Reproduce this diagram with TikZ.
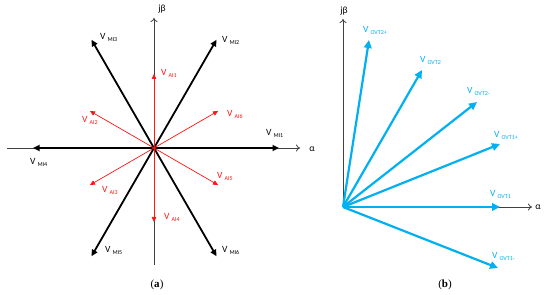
\documentclass[tikz,border=0pt]{standalone}
\usepackage{fontspec}
\setmainfont{Carlito}
\newfontfamily\capfont{Liberation Serif}
\usepackage{tikz}
\usetikzlibrary{arrows.meta,calc,positioning}
\definecolor{axgray}{RGB}{64,64,64}
\definecolor{aired}{RGB}{255,20,20}
\definecolor{ovtblue}{RGB}{0,176,240}
\newcommand{\vsub}[1]{V\hspace{2pt}{\fontsize{6}{6}\selectfont\raisebox{-1.8pt}{#1}}}

\begin{document}
\begin{tikzpicture}[x=1pt,y=1pt,font=\fontsize{9.5}{11}\selectfont,
  axis/.style={axgray,line width=0.8pt,-{To[length=4pt,width=7pt]}},
  mivec/.style={black,line width=1.8pt,-{Triangle[length=6.5pt,width=6pt]}},
  aivec/.style={aired,line width=0.7pt,-{Triangle[length=5pt,width=4.5pt]}},
  ovtvec/.style={ovtblue,line width=2.2pt,-{Triangle[length=8pt,width=7.5pt]}},
  lab/.style={anchor=base west,inner sep=0pt},
  axlab/.style={inner sep=0pt,font=\fontsize{9.5}{10}\selectfont,text=black},
  captxt/.style={inner sep=0pt,font=\capfont\fontsize{11}{12}\selectfont}
]
\useasboundingbox (0,0) rectangle (550,295);
% panel (a)
\coordinate (oa) at (154,147);
\coordinate (axl) at (7,147);
\coordinate (axr) at (300,147);
\coordinate (axb) at (154,30);
\coordinate (axt) at (154,277);
\draw[axgray,line width=0.8pt] (axl) -- (oa);
\draw[axis] (oa) -- (axr);
\draw[axgray,line width=0.8pt] (axb) -- (oa);
\draw[axis] (oa) -- (axt);
\node[axlab] (ja) at (162,286) {jβ};
\node[axlab] (alfa) at (312,146) {α};
\coordinate (mi1) at ($(oa)+(0:125)$);
\coordinate (mi2) at ($(oa)+(60:125)$);
\coordinate (mi3) at ($(oa)+(120:125)$);
\coordinate (mi4) at ($(oa)+(180:121)$);
\coordinate (mi5) at ($(oa)+(240:125)$);
\coordinate (mi6) at ($(oa)+(300:125)$);
\draw[mivec] (oa) -- (mi1);
\draw[mivec] (oa) -- (mi2);
\draw[mivec] (oa) -- (mi3);
\draw[mivec] (oa) -- (mi4);
\draw[mivec] (oa) -- (mi5);
\draw[mivec] (oa) -- (mi6);
\coordinate (ai1) at ($(oa)+(90:74)$);
\coordinate (ai2) at ($(oa)+(150:74)$);
\coordinate (ai3) at ($(oa)+(210:74)$);
\coordinate (ai4) at ($(oa)+(270:74)$);
\coordinate (ai5) at ($(oa)+(330:74)$);
\coordinate (ai6) at ($(oa)+(30:74)$);
\draw[aivec] (oa) -- (ai1);
\draw[aivec] (oa) -- (ai2);
\draw[aivec] (oa) -- (ai3);
\draw[aivec] (oa) -- (ai4);
\draw[aivec] (oa) -- (ai5);
\draw[aivec] (oa) -- (ai6);
\node[lab] (lmi1) at (266,159) {\vsub{MI1}};
\node[lab] (lmi2) at (222,252) {\vsub{MI2}};
\node[lab] (lmi3) at (100,255) {\vsub{MI3}};
\node[lab] (lmi4) at (30,130) {\vsub{MI4}};
\node[lab] (lmi5) at (105,42) {\vsub{MI5}};
\node[lab] (lmi6) at (222,42) {\vsub{MI6}};
\node[lab,aired] (lai1) at (161,219) {\vsub{AI1}};
\node[lab,aired] (lai2) at (82,172) {\vsub{AI2}};
\node[lab,aired] (lai3) at (102,102) {\vsub{AI3}};
\node[lab,aired] (lai4) at (164,75) {\vsub{AI4}};
\node[lab,aired] (lai5) at (217,116) {\vsub{AI5}};
\node[lab,aired] (lai6) at (227,178) {\vsub{AI6}};
\node[captxt] (capa) at (157,10) {(\textbf{a})};
% panel (b)
\coordinate (ob) at (343,88);
\coordinate (bxr) at (532,88);
\coordinate (bxt) at (343,276);
\draw[axis] (ob) -- (bxr);
\draw[axis] (ob) -- (bxt);
\node[axlab] (jb) at (344,284) {jβ};
\node[axlab] (alfb) at (538,88) {α};
\coordinate (t2p) at (369,255);
\coordinate (t2) at (422,225);
\coordinate (t2m) at (477,193);
\coordinate (t1p) at (500,151);
\coordinate (t1) at (500,88);
\coordinate (t1m) at (498,27);
\draw[ovtvec] (ob) -- (t2p);
\draw[ovtvec] (ob) -- (t2);
\draw[ovtvec] (ob) -- (t2m);
\draw[ovtvec] (ob) -- (t1p);
\draw[ovtvec] (ob) -- (t1);
\draw[ovtvec] (ob) -- (t1m);
\node[lab,ovtblue] (lt2p) at (363,262) {\vsub{OVT2+}};
\node[lab,ovtblue] (lt2) at (420,232) {\vsub{OVT2}};
\node[lab,ovtblue] (lt2m) at (467,201) {\vsub{OVT2-}};
\node[lab,ovtblue] (lt1p) at (494,157) {\vsub{OVT1+}};
\node[lab,ovtblue] (lt1) at (490,98) {\vsub{OVT1}};
\node[lab,ovtblue] (lt1m) at (492,36) {\vsub{OVT1-}};
\node[captxt] (capb) at (445,10) {(\textbf{b})};
\end{tikzpicture}
\end{document}
